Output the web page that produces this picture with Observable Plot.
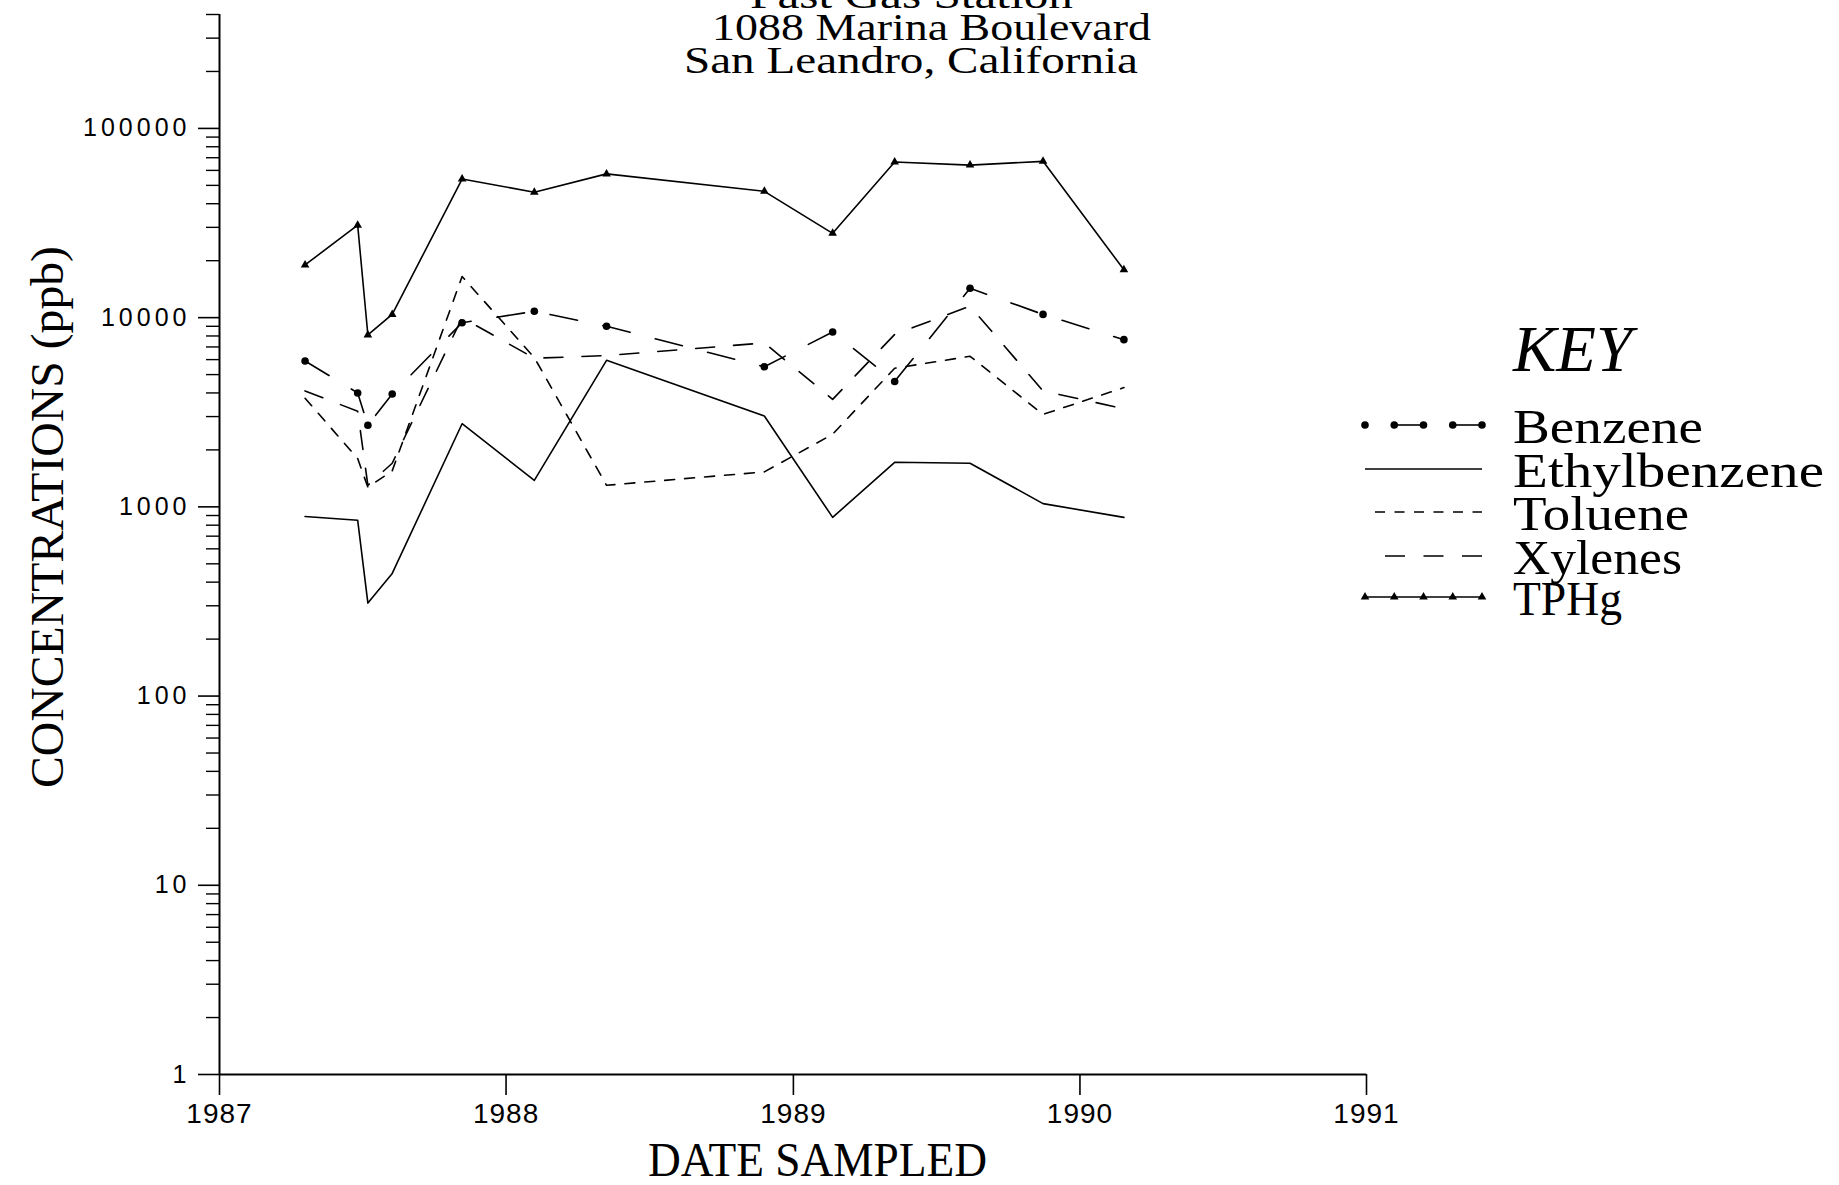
<!DOCTYPE html>
<html>
<head>
<meta charset="utf-8">
<script src="https://cdn.jsdelivr.net/npm/d3@7"></script>
<script src="https://cdn.jsdelivr.net/npm/@observablehq/plot@0.6"></script>
<style>
  html, body { margin: 0; padding: 0; background: #fff; }
  #chart { width: 1839px; height: 1185px; overflow: hidden; }
  g[aria-label="y-axis tick label"] text { letter-spacing: 4px; }
  g[aria-label="x-axis tick label"] text { letter-spacing: 1px; }
</style>
</head>
<body>
<div id="chart"></div>
<script>
// ---------------- data ----------------
const sampleDates = ["1987-04-20","1987-06-26","1987-07-09","1987-08-09","1987-11-06","1988-02-06","1988-05-08","1988-11-25","1989-02-20","1989-05-10","1989-08-14","1989-11-15","1990-02-26"];
const benzene      = [5900, 4000, 2700, 3950, 9400, 10800, 9000, 5500, 8400, 4600, 14300, 10400, 7650];
const ethylbenzene = [890, 850, 310, 445, 2750, 1380, 5950, 3020, 880, 1720, 1700, 1040, 880];
const toluene      = [3750, 1800, 1270, 1550, 16500, 6150, 1300, 1530, 2420, 5400, 6250, 3080, 4270];
const xylenes      = [4100, 3200, 1300, 1700, 10000, 6100, 6300, 7350, 3700, 8150, 11500, 4100, 3300];
const tphg         = [19000, 30800, 8100, 10400, 54000, 46000, 57500, 46500, 27900, 66500, 64000, 67000, 17900];

const seriesNames = ["Benzene", "Ethylbenzene", "Toluene", "Xylenes", "TPHg"];
const seriesValues = [benzene, ethylbenzene, toluene, xylenes, tphg];

const titleLines = ["Fast Gas Station", "1088 Marina Boulevard", "San Leandro, California"];
const xLabel = "DATE SAMPLED";
const yLabel = "CONCENTRATIONS (ppb)";
const legendTitle = "KEY";
const yearTicks = [1987, 1988, 1989, 1990, 1991];
const yMajorTicks = [1, 10, 100, 1000, 10000, 100000];
const yMinorMultipliers = [2, 3, 4, 5, 6, 7, 8, 9];

// ---------------- styles ----------------
const styles = {
  Benzene:      {dash: "28,26", marker: "dot"},
  Ethylbenzene: {dash: null,    marker: null},
  Toluene:      {dash: "10,10", marker: null},
  Xylenes:      {dash: "19,19", marker: null},
  TPHg:         {dash: null,    marker: "triangle"}
};

// ---------------- build tables ----------------
const rows = [];
seriesNames.forEach((name, i) => {
  seriesValues[i].forEach((v, j) => rows.push({series: name, date: new Date(sampleDates[j] + "T00:00:00Z"), value: v}));
});
const yearDates = yearTicks.map(y => new Date(Date.UTC(y, 0, 1)));
const yMinorTicks = [];
for (const base of yMajorTicks) for (const m of yMinorMultipliers) {
  const v = base * m;
  if (v <= 400000) yMinorTicks.push(v);
}

const W = 1839, H = 1185;
const lineMarks = [];
for (const name of seriesNames) {
  const data = rows.filter(r => r.series === name);
  const st = styles[name];
  lineMarks.push(Plot.line(data, {x: "date", y: "value", stroke: "black", strokeWidth: 1.6, strokeDasharray: st.dash || undefined}));
  if (st.marker === "dot") lineMarks.push(Plot.dot(data, {x: "date", y: "value", r: 3.8, fill: "black", stroke: "none"}));
  if (st.marker === "triangle") lineMarks.push(Plot.dot(data, {x: "date", y: "value", symbol: "triangle", r: 3.2, fill: "black", stroke: "none"}));
}

const chart = Plot.plot({
  width: W, height: H,
  marginLeft: 219, marginRight: 473, marginTop: 14, marginBottom: 111,
  style: {background: "white", color: "black", fontFamily: "'Liberation Sans', Arial, sans-serif", overflow: "visible"},
  x: {type: "utc", domain: [yearDates[0], yearDates[yearDates.length - 1]], label: null},
  y: {type: "log", domain: [1, 400000], label: null},
  marks: [
    Plot.axisX({ticks: yearDates, tickSize: 21, tickPadding: 8, tickFormat: d => String(d.getUTCFullYear()), fontSize: 28, label: null, strokeWidth: 1.6}),
    Plot.axisY({ticks: yMajorTicks, tickSize: 21, tickPadding: 8, tickFormat: d => String(d), fontSize: 25, label: null, strokeWidth: 1.6}),
    Plot.axisY({ticks: yMinorTicks, tickSize: 13, tickFormat: () => "", label: null, strokeWidth: 1.4}),
    Plot.ruleX([yearDates[0]], {stroke: "black", strokeWidth: 2}),
    Plot.ruleY([1], {stroke: "black", strokeWidth: 2}),
    ...lineMarks
  ]
});
document.getElementById("chart").appendChild(chart);

// ---------------- annotations (title, axis labels, key) ----------------
const svg = d3.select(chart);
const ann = svg.append("g")
  .attr("font-family", "'Liberation Serif', 'DejaVu Serif', serif")
  .attr("fill", "black")
  .attr("text-anchor", "start");
function label(str, x, y, size, len, extra = {}) {
  const t = ann.append("text")
    .attr("x", x).attr("y", y).attr("font-size", size)
    .attr("text-anchor", "start")
    .attr("textLength", len).attr("lengthAdjust", "spacingAndGlyphs")
    .text(str);
  for (const k in extra) t.attr(k, extra[k]);
  return t;
}
label(titleLines[0], 750, 8, 38, 323);
label(titleLines[1], 712, 40, 38, 439);
label(titleLines[2], 684, 73, 38, 454);
label(xLabel, 648, 1176, 48, 339);
label(yLabel, 0, 0, 46, 542, {transform: "translate(63,788) rotate(-90)"});
label(legendTitle, 1513, 371, 66, 119, {"font-style": "italic"});

const legendBaselines = [443, 487, 530, 574, 615];
const legendTextLen = [190, 311, 176, 169, 109];
const swatchX0 = 1365, swatchX1 = 1482;
seriesNames.forEach((name, i) => {
  label(name, 1513, legendBaselines[i], 49, legendTextLen[i]);
  const y = legendBaselines[i] - 18;
  const g = ann.append("g").attr("stroke", "black").attr("stroke-width", 1.6);
  if (name === "Benzene") {
    const xs = d3.range(5).map(k => swatchX0 + k * (swatchX1 - swatchX0) / 4);
    [[1, 2], [3, 4]].forEach(([a, b]) => g.append("line").attr("x1", xs[a]).attr("x2", xs[b]).attr("y1", y).attr("y2", y));
    xs.forEach(x => g.append("circle").attr("cx", x).attr("cy", y).attr("r", 3.8).attr("fill", "black").attr("stroke", "none"));
  } else if (name === "TPHg") {
    g.append("line").attr("x1", swatchX0).attr("x2", swatchX1).attr("y1", y).attr("y2", y);
    const tri = d3.symbol(d3.symbolTriangle, Math.PI * 3.2 * 3.2)();
    d3.range(5).forEach(k => g.append("path").attr("d", tri).attr("transform", `translate(${swatchX0 + k * (swatchX1 - swatchX0) / 4},${y})`).attr("fill", "black").attr("stroke", "none"));
  } else if (name === "Toluene") {
    g.append("line").attr("x1", swatchX0 + 10).attr("x2", swatchX1).attr("y1", y).attr("y2", y).attr("stroke-dasharray", "10,9.5");
  } else if (name === "Xylenes") {
    g.append("line").attr("x1", swatchX0 + 20).attr("x2", swatchX1).attr("y1", y).attr("y2", y).attr("stroke-dasharray", "20,18.5");
  } else {
    g.append("line").attr("x1", swatchX0).attr("x2", swatchX1).attr("y1", y).attr("y2", y);
  }
});
</script>
</body>
</html>
